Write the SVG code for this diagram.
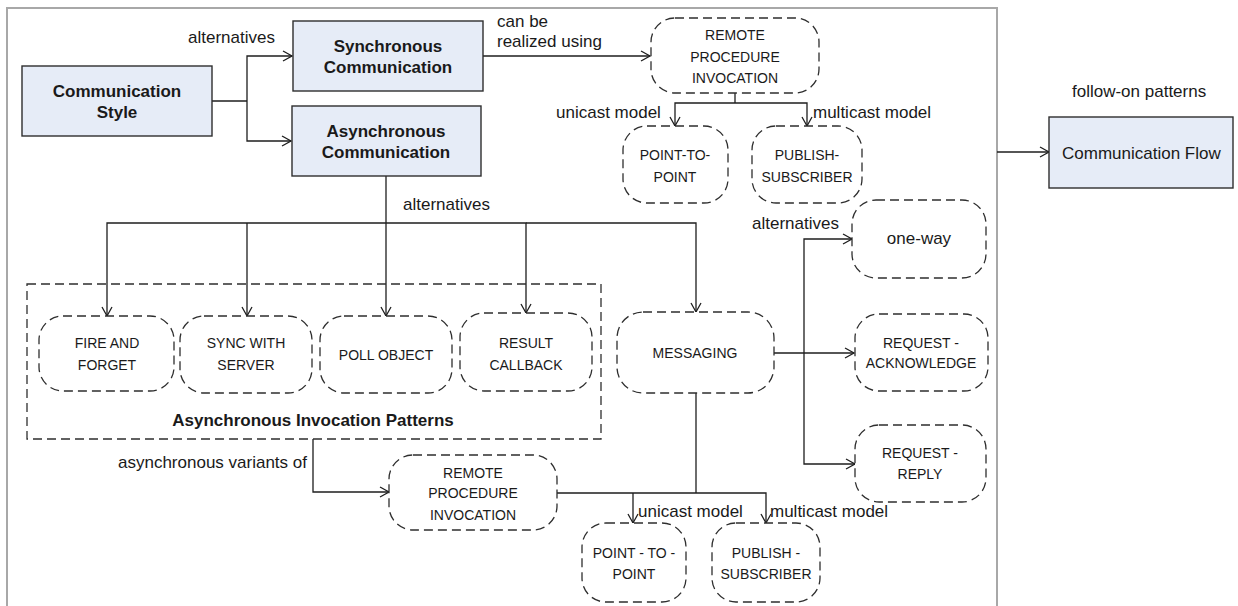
<svg xmlns="http://www.w3.org/2000/svg" width="1238" height="606" viewBox="0 0 1238 606">
  <style>
    .frame { fill: none; stroke: #a8a8a8; stroke-width: 2; }
    .box { fill: #e6ecf7; stroke: #2e2e2e; stroke-width: 1.4; }
    .pat { fill: #ffffff; stroke: #2e2e2e; stroke-width: 1.3; stroke-dasharray: 9 5; }
    .group { fill: none; stroke: #2e2e2e; stroke-width: 1.3; stroke-dasharray: 9 5; }
    .conn { fill: none; stroke: #1e1e1e; stroke-width: 1.3; }
    .arr { marker-end: url(#open); }
    text { font-family: "Liberation Sans", Arial, sans-serif; fill: #1a1a1a; }
    .title { font-size: 17px; font-weight: bold; text-anchor: middle; }
    .name { font-size: 14px; text-anchor: middle; }
    .lbl { font-size: 17px; }
    .mid { text-anchor: middle; }
  </style>
  <defs>
    <marker id="open" markerUnits="userSpaceOnUse" markerWidth="12" markerHeight="12" refX="10" refY="6" orient="auto">
      <path d="M1,1 L10,6 L1,11" fill="none" stroke="#1e1e1e" stroke-width="1.3"/>
    </marker>
  </defs>

  <rect width="1238" height="606" fill="#ffffff"/>
  <!-- outer frame, open at the bottom edge -->
  <path class="frame" d="M7,620 V8 H997 V620"/>

  <!-- connectors -->
  <g id="connectors">
    <path class="conn" d="M212,101 H247"/>
    <path class="conn arr" d="M247,101 V56 H292"/>
    <path class="conn arr" d="M247,101 V141 H291"/>
    <path class="conn arr" d="M483,56 H650"/>
    <path class="conn" d="M735,93 V103"/>
    <path class="conn arr" d="M735,103 H675 V126"/>
    <path class="conn arr" d="M735,103 H807 V126"/>
    <path class="conn" d="M386,176 V223"/>
    <path class="conn arr" d="M386,223 H107 V316"/>
    <path class="conn arr" d="M247,223 V316"/>
    <path class="conn arr" d="M386,223 V316"/>
    <path class="conn arr" d="M386,223 H526 V313"/>
    <path class="conn arr" d="M526,223 H696 V312"/>
    <path class="conn arr" d="M774,353 H854"/>
    <path class="conn arr" d="M804,353 V239 H852"/>
    <path class="conn arr" d="M804,353 V464 H855"/>
    <path class="conn arr" d="M313,439 V492 H389"/>
    <path class="conn" d="M696,393 V493"/>
    <path class="conn arr" d="M557,493 H766 V523"/>
    <path class="conn arr" d="M633,493 V523"/>
    <path class="conn arr" d="M997,152 H1049"/>
  </g>

  <!-- connector labels -->
  <g id="labels">
    <text class="lbl" x="188" y="43">alternatives</text>
    <text class="lbl" x="497" y="27">can be</text>
    <text class="lbl" x="497" y="47">realized using</text>
    <text class="lbl" x="556" y="118">unicast model</text>
    <text class="lbl" x="813" y="118">multicast model</text>
    <text class="lbl" x="1072" y="97">follow-on patterns</text>
    <text class="lbl" x="403" y="210">alternatives</text>
    <text class="lbl" x="752" y="229">alternatives</text>
    <text class="lbl" x="307" y="468" text-anchor="end">asynchronous variants of</text>
    <text class="lbl" x="638" y="517">unicast model</text>
    <text class="lbl" x="770" y="517">multicast model</text>
  </g>

  <g id="communication-style">
    <rect class="box" x="22" y="66" width="190" height="70"/>
    <text class="title" x="117" y="97">Communication</text>
    <text class="title" x="117" y="118">Style</text>
  </g>
  <g id="synchronous-communication">
    <rect class="box" x="293" y="21" width="190" height="70"/>
    <text class="title" x="388" y="52">Synchronous</text>
    <text class="title" x="388" y="73">Communication</text>
  </g>
  <g id="asynchronous-communication">
    <rect class="box" x="292" y="106" width="189" height="70"/>
    <text class="title" x="386" y="137">Asynchronous</text>
    <text class="title" x="386" y="158">Communication</text>
  </g>
  <g id="communication-flow">
    <rect class="box" x="1049" y="117" width="184" height="71"/>
    <text class="lbl" x="1062" y="159">Communication Flow</text>
  </g>

  <g id="rpi-sync">
    <rect class="pat" x="651" y="18" width="168" height="75" rx="24"/>
    <text class="name" x="735" y="40">REMOTE</text>
    <text class="name" x="735" y="62">PROCEDURE</text>
    <text class="name" x="735" y="83">INVOCATION</text>
  </g>
  <g id="p2p-sync">
    <rect class="pat" x="623" y="126" width="105" height="77" rx="24"/>
    <text class="name" x="675" y="160">POINT-TO-</text>
    <text class="name" x="675" y="182">POINT</text>
  </g>
  <g id="pubsub-sync">
    <rect class="pat" x="752" y="126" width="110" height="77" rx="24"/>
    <text class="name" x="807" y="160">PUBLISH-</text>
    <text class="name" x="807" y="182">SUBSCRIBER</text>
  </g>

  <g id="async-invocation-patterns">
    <rect class="group" x="27" y="284" width="574" height="155"/>
    <text class="title" x="313" y="426">Asynchronous Invocation Patterns</text>
  </g>
  <g id="fire-and-forget">
    <rect class="pat" x="39" y="316" width="135" height="75" rx="24"/>
    <text class="name" x="107" y="348">FIRE AND</text>
    <text class="name" x="107" y="370">FORGET</text>
  </g>
  <g id="sync-with-server">
    <rect class="pat" x="180" y="316" width="132" height="77" rx="24"/>
    <text class="name" x="246" y="348">SYNC WITH</text>
    <text class="name" x="246" y="370">SERVER</text>
  </g>
  <g id="poll-object">
    <rect class="pat" x="320" y="316" width="132" height="77" rx="24"/>
    <text class="name" x="386" y="360">POLL OBJECT</text>
  </g>
  <g id="result-callback">
    <rect class="pat" x="460" y="313" width="132" height="78" rx="24"/>
    <text class="name" x="526" y="348">RESULT</text>
    <text class="name" x="526" y="370">CALLBACK</text>
  </g>
  <g id="messaging">
    <rect class="pat" x="617" y="312" width="157" height="81" rx="26"/>
    <text class="name" x="695" y="358">MESSAGING</text>
  </g>

  <g id="one-way">
    <rect class="pat" x="852" y="200" width="134" height="78" rx="24"/>
    <text class="lbl mid" x="919" y="244">one-way</text>
  </g>
  <g id="request-acknowledge">
    <rect class="pat" x="855" y="314" width="133" height="77" rx="24"/>
    <text class="name" x="921" y="348">REQUEST -</text>
    <text class="name" x="921" y="368">ACKNOWLEDGE</text>
  </g>
  <g id="request-reply">
    <rect class="pat" x="855" y="425" width="131" height="77" rx="24"/>
    <text class="name" x="920" y="458">REQUEST -</text>
    <text class="name" x="920" y="479">REPLY</text>
  </g>

  <g id="rpi-async">
    <rect class="pat" x="389" y="455" width="168" height="75" rx="24"/>
    <text class="name" x="473" y="478">REMOTE</text>
    <text class="name" x="473" y="498">PROCEDURE</text>
    <text class="name" x="473" y="520">INVOCATION</text>
  </g>
  <g id="p2p-async">
    <rect class="pat" x="582" y="523" width="104" height="79" rx="24"/>
    <text class="name" x="634" y="558">POINT - TO -</text>
    <text class="name" x="634" y="579">POINT</text>
  </g>
  <g id="pubsub-async">
    <rect class="pat" x="712" y="523" width="108" height="79" rx="24"/>
    <text class="name" x="766" y="558">PUBLISH -</text>
    <text class="name" x="766" y="579">SUBSCRIBER</text>
  </g>
</svg>
